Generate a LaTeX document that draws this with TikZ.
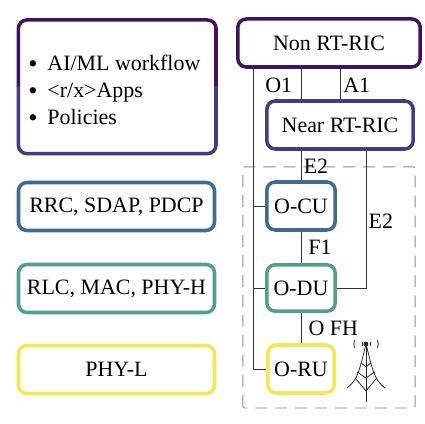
\documentclass[tikz,border=0pt]{standalone}
\usepackage{fontspec}
\setmainfont{Liberation Serif}
\usetikzlibrary{calc,positioning}
\definecolor{cnon}{HTML}{40125F}
\definecolor{cnear}{HTML}{453A85}
\definecolor{ccu}{HTML}{3F6B8F}
\definecolor{cdu}{HTML}{4CA18F}
\definecolor{cru}{HTML}{F7E654}
\newcommand{\bitem}[1]{\makebox[0.48cm][l]{\raisebox{-1.5pt}{\scalebox{1.2}{\textbullet}}}#1}

\begin{document}
\begin{tikzpicture}[font=\fontsize{15.6}{19.2}\selectfont,
	box/.style={draw, line width=2.5pt, rounded corners=6pt, align=center, inner sep=0pt},
	wire/.style={line width=0.6pt, black!80},
	lbl/.style={inner sep=0pt}]
	\useasboundingbox (0,0) rectangle (10.6,10.6);
	% top left box, two colours
	\begin{scope}
		\clip (0,8.425) rectangle (5.6,10.6);
		\draw[line width=2.5pt, rounded corners=6pt, cnon] (0.46,6.76) rectangle (5.4,10.1);
	\end{scope}
	\begin{scope}
		\clip (0,6) rectangle (5.6,8.425);
		\draw[line width=2.5pt, rounded corners=6pt, cnear] (0.46,6.76) rectangle (5.4,10.1);
	\end{scope}
	\node[lbl, align=left, anchor=west] (tasks) at (0.7,8.33) {\bitem{AI/ML workflow}\\ \bitem{<r/x>Apps}\\ \bitem{Policies}};
	% left boxes
	\node[box, draw=ccu, minimum width=4.9cm, minimum height=1.2cm] (rrc) at (2.9125,5.4375) {RRC, SDAP, PDCP};
	\node[box, draw=cdu, minimum width=4.9cm, minimum height=1.2cm] (rlc) at (2.9125,3.3875) {RLC, MAC, PHY-H};
	\node[box, draw=cru, minimum width=4.9cm, minimum height=1.2cm] (phy) at (2.9125,1.3625) {PHY-L};
	% right boxes
	\node[box, draw=cnon, minimum width=4.56cm, minimum height=1.2cm] (nonrt) at (8.225,9.525) {Non RT-RIC};
	\node[box, draw=cnear, minimum width=3.66cm, minimum height=1.2cm] (nearrt) at (8.5,7.475) {Near RT-RIC};
	\node[box, draw=ccu, minimum width=1.71cm, minimum height=1.2cm] (ocu) at (7.525,5.45) {O-CU};
	\node[box, draw=cdu, minimum width=1.71cm, minimum height=1.16cm] (odu) at (7.525,3.4) {O-DU};
	\node[box, draw=cru, minimum width=1.66cm, minimum height=1.2cm] (oru) at (7.525,1.375) {O-RU};
	% dashed site
	\draw[black!45, line width=0.7pt, dash pattern=on 8.5pt off 5.7pt, rounded corners=1pt] (6.07,0.4) rectangle (10.375,6.43);
	% interfaces
	\coordinate (smo) at (6.325,0);
	\draw[wire] (smo |- nonrt.south) -- (smo |- oru.west) -- (oru.west);
	\draw[wire] (smo |- ocu.west) -- (ocu.west);
	\draw[wire] (smo |- odu.west) -- (odu.west);
	\draw[wire] (ocu.north |- nonrt.south) -- (ocu.north |- nearrt.north);
	\coordinate (aone) at (8.5,0);
	\draw[wire] (aone |- nonrt.south) -- (aone |- nearrt.north);
	\draw[wire] (ocu.north |- nearrt.south) -- (ocu.north);
	\coordinate (etwo) at (9.15,0);
	\draw[wire] (etwo |- nearrt.south) -- (etwo |- odu.east) -- (odu.east);
	\draw[wire] (ocu) -- (odu);
	\draw[wire] (odu) -- (oru);
	% labels
	\node[lbl] (oone) at (6.97,8.46) {O1};
	\node[lbl] (afirst) at (8.92,8.46) {A1};
	\node[lbl] (esec) at (7.9,6.45) {E2};
	\node[lbl] (ethird) at (9.52,5.08) {E2};
	\node[lbl] (fone) at (8,4.42) {F1};
	\node[lbl] (ofh) at (8.33,2.38) {O FH};
	% tower
	\begin{scope}[line width=0.55pt, black!85]
		\draw (9.15,0.55) -- (9.15,2);
		\fill (9.15,2) circle (0.06);
		\draw (9.15,2) .. controls (9,1.4) and (8.95,1.1) .. (8.675,0.9);
		\draw (9.15,2) .. controls (9.3,1.4) and (9.35,1.1) .. (9.625,0.9);
		\draw (8.88,1.15) -- (9.15,0.825) -- (9.42,1.15);
		\draw (8.93,1.3) -- (9.15,1.15) -- (9.37,1.3);
		\draw (9.03,1.525) -- (9.15,1.425) -- (9.27,1.525);
		\draw (8.87,1.9) .. controls (8.83,1.96) and (8.83,2.04) .. (8.87,2.1);
		\draw (9.43,1.9) .. controls (9.47,1.96) and (9.47,2.04) .. (9.43,2.1);
		\draw (9.05,1.95) -- (9.05,2.05);
		\draw (9.27,1.95) -- (9.27,2.05);
	\end{scope}
\end{tikzpicture}
\end{document}
